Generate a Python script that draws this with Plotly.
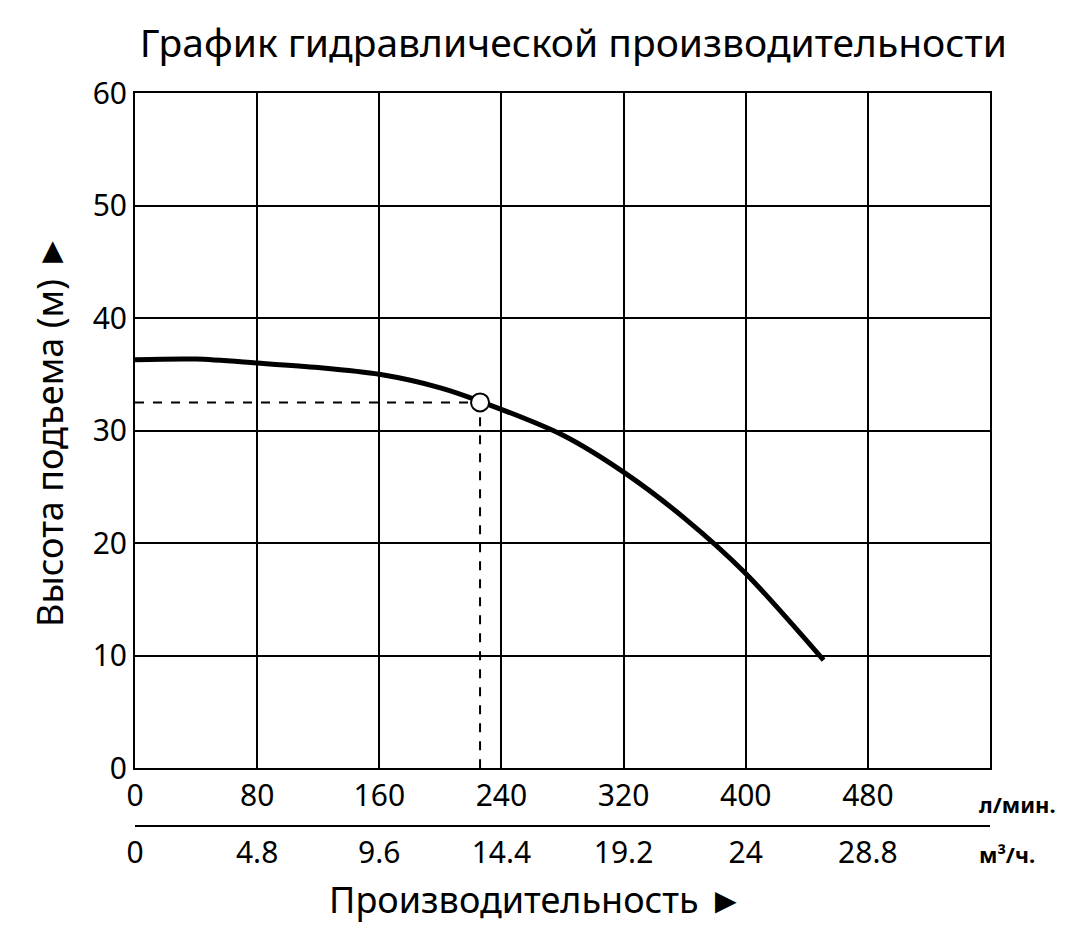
import plotly.graph_objects as go

flow_lpm = [0, 40, 80, 120, 160, 200, 226, 280, 320, 360, 400, 451]
head_m = [36.3, 36.35, 36.0, 35.6, 35.0, 33.8, 32.6, 29.6, 26.3, 22.2, 17.3, 9.6]
op_flow = [226]
op_head = [32.5]
lpm_ticks = [0, 80, 160, 240, 320, 400, 480]
m3_ticks = [0, 4.8, 9.6, 14.4, 19.2, 24, 28.8]
m3_labels = ["0", "4.8", "9.6", "14.4", "19.2", "24", "28.8"]
y_ticks = [0, 10, 20, 30, 40, 50, 60]

F = "Noto Sans"
fig = go.Figure()
fig.add_trace(go.Scatter(x=[0, op_flow[0], op_flow[0]], y=[op_head[0], op_head[0], 0],
                         mode="lines", line=dict(color="black", width=2, dash="dash"),
                         showlegend=False, hoverinfo="skip"))
fig.add_trace(go.Scatter(x=flow_lpm, y=head_m, mode="lines",
                         line=dict(color="black", width=5, shape="spline", smoothing=0.8),
                         showlegend=False))
fig.add_trace(go.Scatter(x=op_flow, y=op_head, mode="markers",
                         marker=dict(size=18, color="white", line=dict(color="black", width=2)),
                         showlegend=False))
fig.add_trace(go.Scatter(x=[0], y=[0], xaxis="x2", mode="markers",
                         marker=dict(opacity=0), showlegend=False, hoverinfo="skip"))

fig.update_layout(
    width=1081, height=929, plot_bgcolor="white", paper_bgcolor="white",
    margin=dict(l=127, r=99, t=85, b=111, autoexpand=False),
    font=dict(family=F, color="black", size=30),
    title=dict(text="График гидравлической производительности", x=0.523, xanchor="center",
               y=0.962, yanchor="middle", font=dict(size=39, family=F)),
    xaxis=dict(range=[0, 560], tickvals=lpm_ticks, showgrid=True, gridcolor="black", gridwidth=2,
               showline=True, linecolor="black", linewidth=2, mirror=True, anchor="y",
               ticks="", zeroline=False, tickfont=dict(size=30), automargin=False),
    xaxis2=dict(range=[0, 33.6], tickvals=m3_ticks, ticktext=m3_labels, overlaying="x",
                anchor="free", position=0, side="bottom", showline=True, linecolor="black",
                linewidth=2, showgrid=False, ticks="", zeroline=False, tickfont=dict(size=30),
                automargin=False),
    yaxis=dict(range=[0, 60], tickvals=y_ticks, domain=[0.079, 1], showgrid=True,
               gridcolor="black", gridwidth=2, showline=True, linecolor="black", linewidth=2,
               mirror=True, ticks="", zeroline=False, tickfont=dict(size=30), automargin=False,
               title=dict(text="Высота подъема (м) ►", font=dict(size=36), standoff=18)),
)
fig.add_annotation(text="<b>л/мин.</b>", xref="paper", yref="paper", x=0.985, y=0.03,
                   xanchor="left", yanchor="middle", showarrow=False, font=dict(size=22))
fig.add_annotation(text="<b>м³/ч.</b>", xref="paper", yref="paper", x=0.985, y=-0.038,
                   xanchor="left", yanchor="middle", showarrow=False, font=dict(size=22))
fig.add_annotation(text="Производительность ►", xref="paper", yref="paper", x=0.47, y=-0.1,
                   xanchor="center", yanchor="middle", showarrow=False, font=dict(size=36))
fig.write_html("out.html")
